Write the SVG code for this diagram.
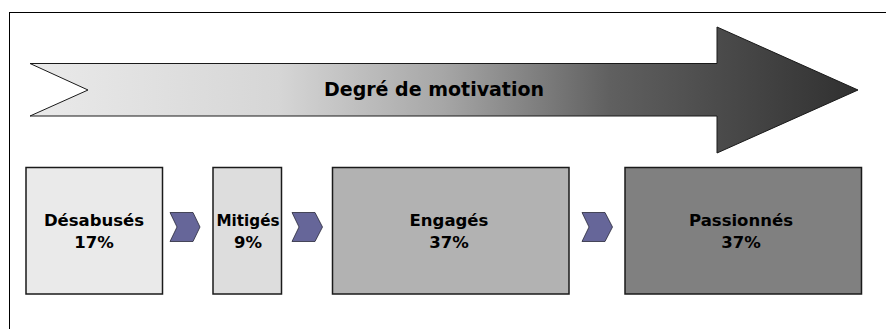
<svg xmlns="http://www.w3.org/2000/svg" width="886" height="329" viewBox="0 0 886 329">
  <defs>
    <linearGradient id="arrowGrad" x1="30" y1="0" x2="858" y2="0" gradientUnits="userSpaceOnUse">
      <stop offset="0" stop-color="#eaeaea"/>
      <stop offset="0.3" stop-color="#d6d6d6"/>
      <stop offset="0.5" stop-color="#a6a6a6"/>
      <stop offset="0.7" stop-color="#606060"/>
      <stop offset="1" stop-color="#303030"/>
    </linearGradient>
  </defs>
  <style>
    .box { stroke: #1a1a1a; stroke-width: 1.5; }
    .lbl { font-family: "DejaVu Sans", Verdana, sans-serif; font-weight: bold; font-size: 16.5px; fill: #000; text-anchor: middle; }
    .title { font-family: "DejaVu Sans", Verdana, sans-serif; font-weight: bold; font-size: 19px; fill: #000; text-anchor: middle; }
    .chev { fill: #666699; stroke: #2a2a3a; stroke-width: 0.8; }
  </style>
  <rect width="886" height="329" fill="#ffffff"/>
  <rect x="9.5" y="12.5" width="900" height="340" fill="none" stroke="#000" stroke-width="1"/>

  <g id="arrow">
    <path d="M30,63.5 L717,63.5 L717,27 L858,90 L717,153 L717,116 L30,116 L88,90 Z" fill="url(#arrowGrad)" stroke="#1a1a1a" stroke-width="1"/>
    <text class="title" x="434" y="96">Degré de motivation</text>
  </g>

  <g id="desabuses">
    <rect class="box" x="26" y="167.5" width="136.5" height="126.5" fill="#eaeaea"/>
    <text class="lbl" x="94" y="226">Désabusés</text>
    <text class="lbl" x="94" y="248">17%</text>
  </g>
  <g id="mitiges">
    <rect class="box" x="213" y="167.5" width="68.5" height="126.5" fill="#dddddd"/>
    <text class="lbl" x="248" y="226" textLength="63" lengthAdjust="spacingAndGlyphs">Mitigés</text>
    <text class="lbl" x="248" y="248">9%</text>
  </g>
  <g id="engages">
    <rect class="box" x="332.5" y="167.5" width="236.5" height="126.5" fill="#b2b2b2"/>
    <text class="lbl" x="449" y="226">Engagés</text>
    <text class="lbl" x="449" y="248">37%</text>
  </g>
  <g id="passionnes">
    <rect class="box" x="625" y="167.5" width="236.5" height="126.5" fill="#808080"/>
    <text class="lbl" x="741" y="226">Passionnés</text>
    <text class="lbl" x="741" y="248">37%</text>
  </g>

  <g id="connectors">
    <path class="chev" d="M170,212.5 L193,212.5 L200,227 L193,241.5 L170,241.5 L177,227 Z"/>
    <path class="chev" d="M292,212.5 L315,212.5 L322.5,227 L315,241.5 L292,241.5 L299,227 Z"/>
    <path class="chev" d="M582,212.5 L605,212.5 L612.5,227 L605,241.5 L582,241.5 L589,227 Z"/>
  </g>
</svg>
